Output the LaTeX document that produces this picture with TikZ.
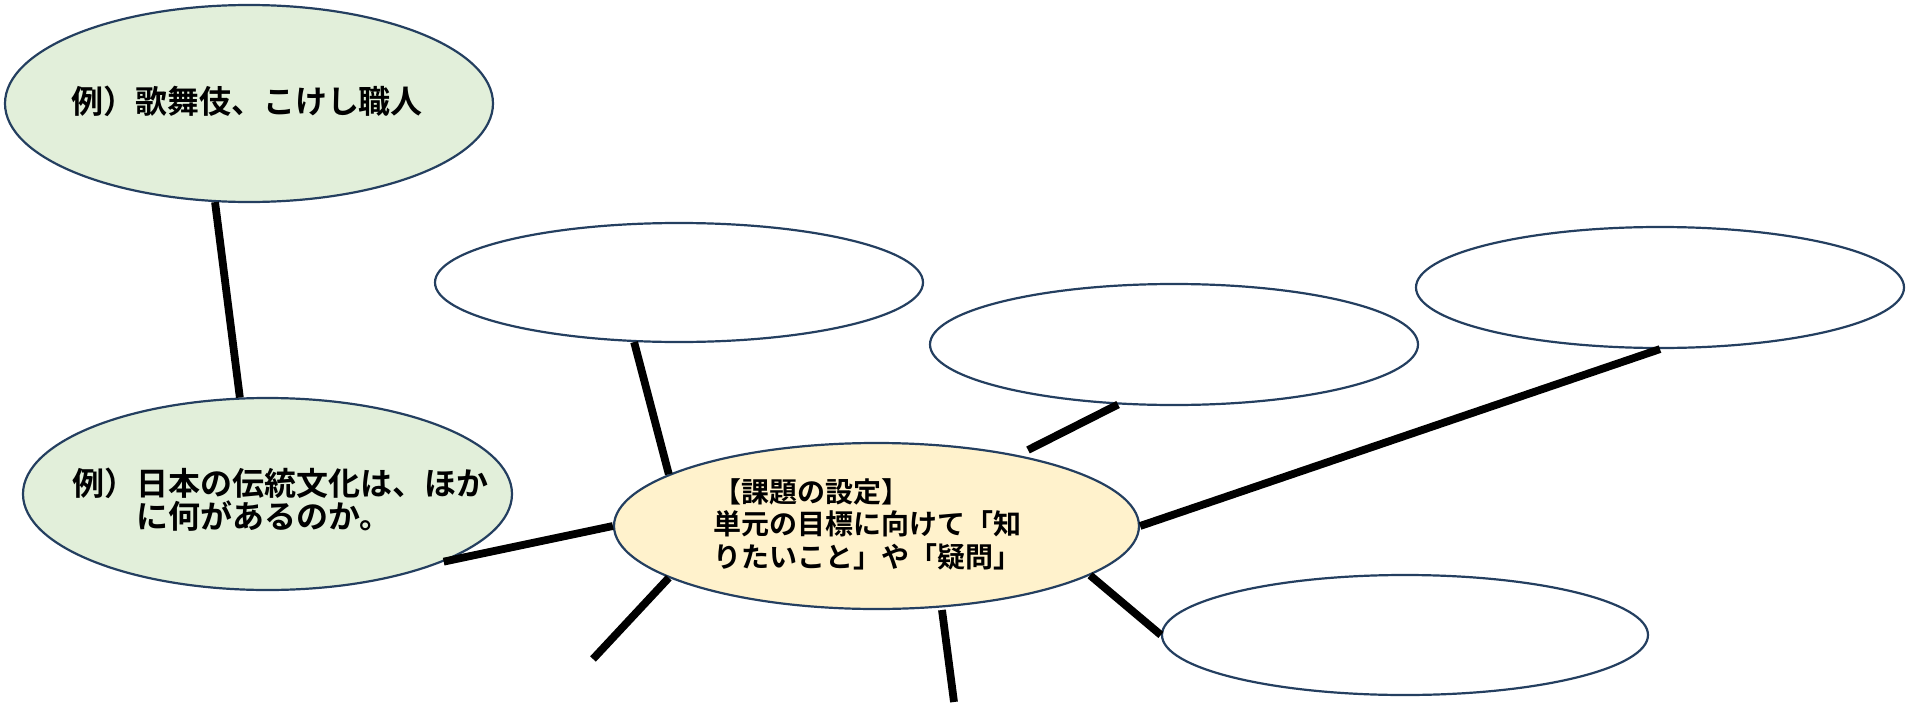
\documentclass[tikz,border=0pt]{standalone}
\usepackage{fontspec}
\newfontfamily\jp{Noto Sans CJK JP}[BoldFont={Noto Sans CJK JP Bold}]
\usetikzlibrary{shapes.geometric}
\definecolor{edge}{RGB}{36,63,96}
\definecolor{greenfill}{HTML}{E2EFDA}
\definecolor{yellowfill}{HTML}{FFF2CC}
\tikzset{
  bubble/.style={ellipse, draw=edge, line width=2.2pt, inner sep=0pt},
  greenbubble/.style={bubble, fill=greenfill},
  yellowbubble/.style={bubble, fill=yellowfill},
  whitebubble/.style={bubble, fill=white},
  link/.style={black, line width=7.8pt},
  txt/.style={inner sep=0pt, font=\jp\bfseries}
}
\begin{document}
\begin{tikzpicture}[x=1pt,y=-1pt]
\useasboundingbox (0,0) rectangle (1907,704);
% ellipses
\node[greenbubble, minimum width=488pt, minimum height=197pt] (e1) at (249,103.5) {};
\node[greenbubble, minimum width=489pt, minimum height=192pt] (e2) at (267.5,494) {};
\node[whitebubble, minimum width=488pt, minimum height=119pt] (e4) at (679,282.5) {};
\node[whitebubble, minimum width=488pt, minimum height=121pt] (e5) at (1174,344.5) {};
\node[whitebubble, minimum width=488pt, minimum height=121pt] (e6) at (1660,287.5) {};
\node[whitebubble, minimum width=486pt, minimum height=120pt] (e7) at (1405,635) {};
\node[yellowbubble, minimum width=525pt, minimum height=166pt] (c) at (876.5,526) {};
% texts
\node[txt, font=\jp\bfseries\fontsize{32}{32}\selectfont] (t1) at (247,101) {例）歌舞伎、こけし職人};
\node[txt, anchor=north west, align=left, font=\jp\bfseries\fontsize{32}{33}\selectfont] (t2) at (72,468) {例）日本の伝統文化は、ほか\\\hspace*{2em}に何があるのか。};
\node[txt, anchor=north west, align=left, font=\jp\bfseries\fontsize{28}{32.5}\selectfont] (t3) at (713,478) {【課題の設定】\\単元の目標に向けて「知\\りたいこと」や「疑問」};
% free ends
\coordinate (a4) at (1028,450);
\coordinate (a7) at (593,659);
\coordinate (a8s) at (942,610);
\coordinate (a8e) at (954,702);
% connectors
\draw[link] (e1.251.5) -- (e2.106);
\draw[link] (e2.339) -- (c.west);
\draw[link] (e4.233) -- (c.166.3);
\draw[link] (a4) -- (e5.227);
\draw[link] (c.east) -- (e6.south);
\draw[link] (c.347.6) -- (e7.west);
\draw[link] (c.194.7) -- (a7);
\draw[link] (a8s) -- (a8e);
\end{tikzpicture}
\end{document}
